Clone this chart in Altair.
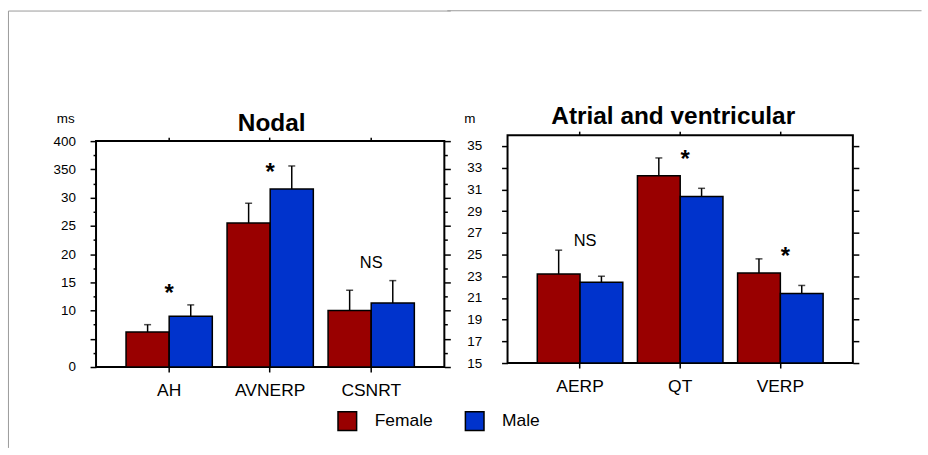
import altair as alt
import pandas as pd

FONT = "Liberation Sans, Arial, sans-serif"
FRAME_GRAY = "#9a9a9a"

sexes = ["Female", "Male"]
sex_colors = ["#990000", "#0033cc"]

# Nodal panel
nodal_cats = ["AH", "AVNERP", "CSNRT"]
nodal_female = [6.2, 25.5, 10.0]
nodal_female_upper = [7.5, 29.0, 13.6]
nodal_male = [9.0, 31.5, 11.35]
nodal_male_upper = [11.0, 35.6, 15.3]
nodal_marks = ["*", "*", "NS"]
nodal_mark_y = [11.7, 33.2, 17.6]
nodal_tick_values = [0, 5, 10, 15, 20, 25, 30, 35, 40]
nodal_tick_labels = ["0", "", "10", "15", "20", "25", "30", "350", "400"]
nodal_minor_ticks = [2.5, 7.5, 12.5, 17.5, 22.5, 27.5, 32.5, 37.5]

# Atrial and ventricular panel
av_cats = ["AERP", "QT", "VERP"]
av_female = [23.2, 32.25, 23.3]
av_female_upper = [25.4, 33.9, 24.6]
av_male = [22.45, 30.35, 21.4]
av_male_upper = [23.0, 31.1, 22.15]
av_marks = ["NS", "*", "*"]
av_mark_y = [25.8, 33.1, 24.1]
av_tick_values = [15, 17, 19, 21, 23, 25, 27, 29, 31, 33, 35]


def make_df(cats, f, fu, m, mu):
    rows = []
    for i, c in enumerate(cats):
        rows.append({"cat": c, "sex": "Female", "value": f[i], "upper": fu[i]})
        rows.append({"cat": c, "sex": "Male", "value": m[i], "upper": mu[i]})
    return pd.DataFrame(rows)


legend = alt.Legend(
    orient="none", legendX=242, legendY=405.8, direction="horizontal", title=None,
    symbolType="square", symbolSize=350, symbolStrokeColor="black",
    symbolStrokeWidth=1.5, labelFontSize=17.5, labelOffset=17, columnPadding=29,
    labelColor="black", labelFont=FONT, padding=0,
)

one_row = pd.DataFrame({"k": [0]})


def frame_line(x, x2, y, y2):
    # light gray frame around the figure (decoration, drawn in pixels)
    return alt.Chart(one_row).mark_rule(color=FRAME_GRAY, strokeWidth=1).encode(
        x=alt.value(x), x2=alt.value(x2), y=alt.value(y), y2=alt.value(y2),
    )


def panel(cats, f, fu, m, mu, marks, mark_y, domain, base, y_left, y_right,
          title, w, h, text_dx, top_space, frame):
    df = make_df(cats, f, fu, m, mu)
    ann = pd.DataFrame({"cat": cats, "mark": marks, "y": mark_y})
    xsc = alt.Scale(type="band", domain=cats, paddingInner=0.146, paddingOuter=0.297)
    ysc = alt.Scale(domain=domain, nice=False, zero=False)
    xoff = alt.XOffset("sex:N", sort=sexes, scale=alt.Scale(domain=sexes))
    bottom_axis = alt.Axis(orient="bottom", labelAngle=0, labelFontSize=17.5,
                           tickSize=5, labelPadding=9.5, title=None)
    top_axis = alt.Axis(orient="top", labels=False, tickSize=4, title=" ",
                        titleY=-top_space, titleBaseline="top", titleFontSize=10)

    bars = alt.Chart(df).mark_bar(stroke="black", strokeWidth=1.5).encode(
        x=alt.X("cat:N", scale=xsc, sort=cats, axis=bottom_axis),
        xOffset=xoff,
        y=alt.Y("value:Q", scale=ysc, axis=y_left),
        y2=alt.datum(base),
        color=alt.Color("sex:N", scale=alt.Scale(domain=sexes, range=sex_colors),
                        legend=legend),
    )
    rules = alt.Chart(df).mark_rule(color="black", strokeWidth=1.5).encode(
        x=alt.X("cat:N", scale=xsc, sort=cats, axis=None),
        xOffset=xoff,
        y=alt.Y("value:Q", scale=ysc, axis=y_right),
        y2="upper:Q",
    )
    caps = alt.Chart(df).mark_tick(color="black", thickness=1.5, size=7).encode(
        x=alt.X("cat:N", scale=xsc, sort=cats, axis=None),
        xOffset=xoff,
        y=alt.Y("upper:Q", scale=ysc, axis=None),
    )
    stars = alt.Chart(ann).transform_filter("datum.mark == '*'").mark_text(
        fontSize=24, fontWeight="bold", baseline="alphabetic", dx=text_dx,
        color="black", font=FONT,
    ).encode(
        x=alt.X("cat:N", scale=xsc, sort=cats, axis=top_axis),
        y=alt.Y("y:Q", scale=ysc, axis=None),
        text="mark:N",
    )
    ns = alt.Chart(ann).transform_filter("datum.mark == 'NS'").mark_text(
        fontSize=16.5, baseline="alphabetic", dx=text_dx, color="black", font=FONT,
    ).encode(
        x=alt.X("cat:N", scale=xsc, sort=cats, axis=None),
        y=alt.Y("y:Q", scale=ysc, axis=None),
        text="mark:N",
    )
    return alt.layer(bars, rules, caps, stars, ns, *frame).resolve_scale(
        x="independent", y="independent", xOffset="independent"
    ).properties(width=w, height=h, title=title)


def spacer():
    # empty 1x1 cell: lets the two panels align on their top bounds
    return alt.Chart(one_row).mark_rule(opacity=0).encode(
        x=alt.value(0), x2=alt.value(1), y=alt.value(0.5),
    ).properties(width=1, height=1, view=alt.ViewBackground(stroke="transparent"))


nodal_all = sorted(nodal_tick_values + nodal_minor_ticks)
label_expr = " : ".join(
    f"datum.value == {v} ? '{l}'" for v, l in zip(nodal_tick_values, nodal_tick_labels)
) + " : ''"
major_test = "datum.value % 5 == 0"
cond_size = {"condition": {"test": major_test, "value": 6}, "value": 3}

nodal_left = alt.Axis(
    orient="left", values=nodal_all, labelExpr=label_expr, tickSize=cond_size,
    labelPadding=14.7, title="ms", titleAngle=0, titleAlign="left",
    titleBaseline="middle", titleX=-40, titleY=-22.7, titleFontWeight="normal",
    titleFontSize=13.5,
)
nodal_right = alt.Axis(orient="right", values=nodal_all, labels=False,
                       tickSize=cond_size, title=None)

av_left = alt.Axis(
    orient="left", values=av_tick_values, tickSize=6, labelPadding=20,
    title="m", titleAngle=0, titleAlign="left", titleBaseline="middle",
    titleX=-44, titleY=-17, titleFontWeight="normal", titleFontSize=13.5,
)
av_right = alt.Axis(orient="right", values=av_tick_values, labels=False,
                    tickSize=6, title=None)

left = panel(
    nodal_cats, nodal_female, nodal_female_upper, nodal_male, nodal_male_upper,
    nodal_marks, nodal_mark_y, [0, 40], 0, nodal_left, nodal_right,
    alt.TitleParams("Nodal", fontSize=24.5, fontWeight="bold", baseline="alphabetic",
                    offset=0, dy=145.9, dx=1.5, frame="group", color="black",
                    font=FONT),
    350, 227, 0, 40,
    [frame_line(-88, 356.5, -130.7, -130.7), frame_line(-88, -88, -130.7, 308.3)],
)
right = panel(
    av_cats, av_female, av_female_upper, av_male, av_male_upper,
    av_marks, av_mark_y, [15, 36], 15, av_left, av_right,
    alt.TitleParams("Atrial and ventricular", fontSize=24.5, fontWeight="bold",
                    baseline="alphabetic", offset=0, dy=138.8, dx=-7, frame="group",
                    color="black", font=FONT),
    347, 229, 5, 34.3,
    [frame_line(-60.5, 416, -125, -125)],
)

chart = alt.concat(
    spacer(), spacer(), left, right,
    columns=2, spacing={"row": 0, "column": -6.5}, align="none",
).properties(
    padding={"left": 6.5, "top": 4.7, "right": 5, "bottom": 5},
    background="white",
).configure_view(
    stroke="black", strokeWidth=2,
).configure_axis(
    labelFont=FONT, titleFont=FONT, labelColor="black", titleColor="black",
    tickColor="black", tickWidth=1.5, domain=False, grid=False, labelFontSize=13.5,
)

chart.save("out.html", embed_options={"renderer": "svg", "actions": False})
